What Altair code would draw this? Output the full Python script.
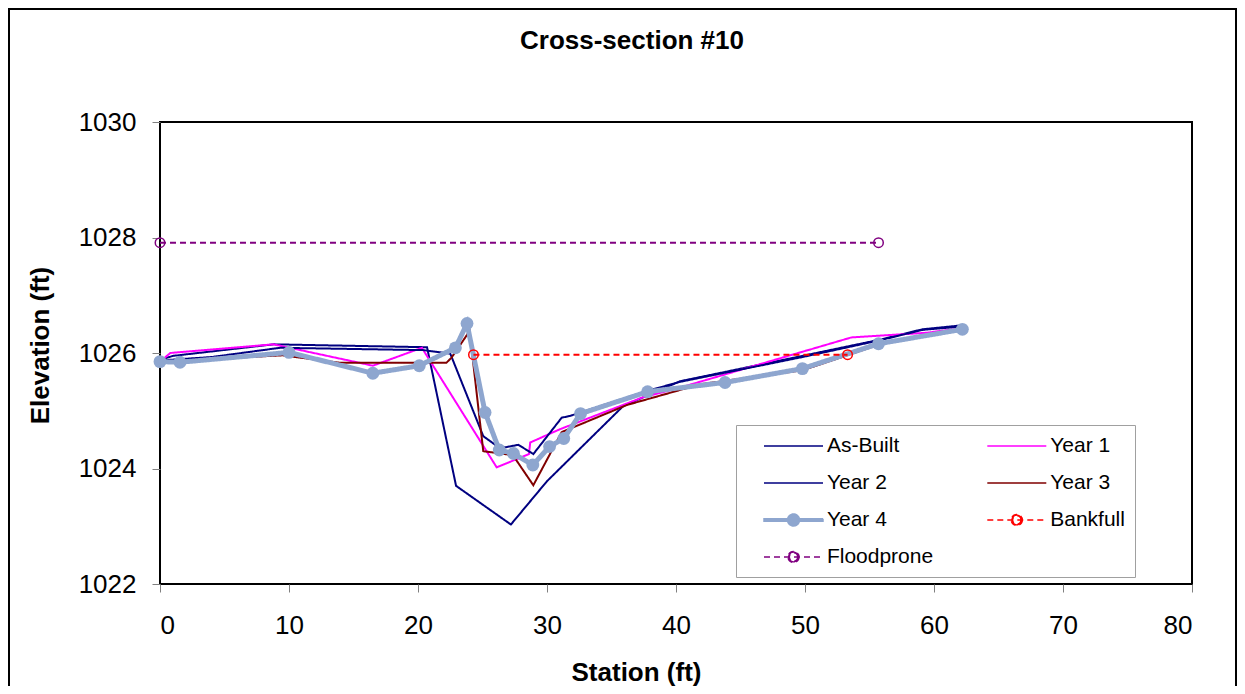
import altair as alt
import pandas as pd

FONT = "Liberation Sans"

chart_title = "Cross-section #10"
x_title = "Station (ft)"
y_title = "Elevation (ft)"
x_ticks = [0, 10, 20, 30, 40, 50, 60, 70, 80]
y_ticks = [1022, 1024, 1026, 1028, 1030]

series_names = ["As-Built", "Year 1", "Year 2", "Year 3", "Year 4", "Bankfull", "Floodprone"]
series_colors = ["#000080", "#FF00FF", "#000080", "#800000", "#8EA6CF", "#FF0000", "#800080"]
series_dashes = [[1, 0], [1, 0], [1, 0], [1, 0], [1, 0], [6, 4], [6, 4]]

asbuilt_x = [0, 1.0, 8.8, 20.7, 22.95, 27.2, 30.0, 35.9, 40.3, 49.8, 55.8, 59.1, 62.2]
asbuilt_y = [1025.88, 1025.95, 1026.15, 1026.1, 1023.7, 1023.03, 1023.78, 1025.08, 1025.51, 1025.95, 1026.23, 1026.41, 1026.48]

year1_x = [0, 0.8, 8.8, 16.5, 20.3, 26.1, 28.6, 28.7, 31.0, 37.4, 40.3, 53.6, 59.4, 62.2]
year1_y = [1025.85, 1026.0, 1026.15, 1025.78, 1026.09, 1024.02, 1024.25, 1024.45, 1024.68, 1025.23, 1025.40, 1026.27, 1026.35, 1026.43]

year2_x = [0, 4.0, 9.3, 20.4, 22.5, 25.06, 26.36, 27.78, 28.94, 31.14, 31.78, 37.73, 40.3, 49.8, 55.8, 59.1, 62.2]
year2_y = [1025.87, 1025.93, 1026.09, 1026.05, 1025.99, 1024.56, 1024.35, 1024.41, 1024.25, 1024.88, 1024.91, 1025.34, 1025.5, 1025.93, 1026.22, 1026.4, 1026.46]

year3_x = [0, 9.5, 14.0, 22.2, 22.6, 24.0, 25.06, 27.36, 28.94, 31.14, 36.2, 41.9, 49.8, 55.8, 62.2]
year3_y = [1025.85, 1025.96, 1025.83, 1025.83, 1025.92, 1026.38, 1024.30, 1024.23, 1023.71, 1024.63, 1025.1, 1025.46, 1025.70, 1026.15, 1026.42]

year4_x = [0, 1.55, 10.0, 16.5, 20.1, 22.9, 23.8, 25.2, 26.3, 27.4, 28.9, 30.2, 31.3, 32.6, 37.8, 43.8, 49.8, 55.7, 62.2]
year4_y = [1025.85, 1025.84, 1026.01, 1025.65, 1025.78, 1026.09, 1026.51, 1024.97, 1024.32, 1024.26, 1024.06, 1024.38, 1024.52, 1024.95, 1025.33, 1025.49, 1025.73, 1026.16, 1026.41]

bankfull_x = [24.3, 53.3]
bankfull_y = [1025.97, 1025.97]

floodprone_x = [0, 55.7]
floodprone_y = [1027.91, 1027.91]

all_series = {
    "As-Built": (asbuilt_x, asbuilt_y),
    "Year 1": (year1_x, year1_y),
    "Year 2": (year2_x, year2_y),
    "Year 3": (year3_x, year3_y),
    "Year 4": (year4_x, year4_y),
    "Bankfull": (bankfull_x, bankfull_y),
    "Floodprone": (floodprone_x, floodprone_y),
}

rows = []
for name, (xs, ys) in all_series.items():
    for i, (xv, yv) in enumerate(zip(xs, ys)):
        rows.append({"series": name, "station": xv, "elev": yv, "i": i})
df = pd.DataFrame(rows)

# legend symbol shapes (unit = 10 px): a 59 px line, optionally with a marker
line_path = "M-2.95,0L2.95,0"
disk_path = ("M-2.95,-0.125L2.95,-0.125L2.95,0.125L-2.95,0.125Z"
             "M0.6,0A0.6,0.6,0,1,1,-0.6,0A0.6,0.6,0,1,1,0.6,0Z")
ring_path = (line_path +
             "M0.55,0A0.55,0.55,0,1,1,-0.55,0A0.55,0.55,0,1,1,0.55,0Z"
             "M0.42,0A0.42,0.42,0,1,0,-0.42,0A0.42,0.42,0,1,0,0.42,0Z")
series_shapes = [line_path, line_path, line_path, line_path, disk_path, ring_path, ring_path]
series_fills = ["transparent", "transparent", "transparent", "transparent", "#8EA6CF", "#FF0000", "#800080"]

legend = alt.Legend(
    orient="none", legendX=576, legendY=303, columns=2, direction="horizontal", title=None,
    labelFont=FONT, labelFontSize=21, labelColor="black", labelOffset=22.4, labelLimit=0,
    symbolSize=400, symbolType="stroke", symbolOffset=36.5, symbolOpacity=1,
    fillColor="white", strokeColor="#A0A0A0", padding=10, gridAlign="all",
    columnPadding=35.3, rowPadding=16,
)

color_scale = alt.Scale(domain=series_names, range=series_colors)
dash_scale = alt.Scale(domain=series_names, range=series_dashes)
shape_scale = alt.Scale(domain=series_names, range=series_shapes)
fill_scale = alt.Scale(domain=series_names, range=series_fills)

x_enc = alt.X("station:Q", scale=alt.Scale(domain=[0, 80], nice=False, zero=False),
              axis=alt.Axis(values=x_ticks, title=x_title, format="d",
                            labelPadding=20, titleX=476, titleY=96,
                            titleBaseline="alphabetic", titleAlign="center"))
y_enc = alt.Y("elev:Q", scale=alt.Scale(domain=[1022, 1030], nice=False, zero=False),
              axis=alt.Axis(values=y_ticks, title=y_title, format="d",
                            labelPadding=16, titleX=-112, titleY=223, titleAngle=270,
                            titleBaseline="alphabetic", titleAlign="center"))

base = alt.Chart(df)

def line_layer(names, width):
    return base.transform_filter(
        alt.FieldOneOfPredicate(field="series", oneOf=names)
    ).mark_line(clip=False, strokeWidth=width).encode(
        x=x_enc, y=y_enc,
        color=alt.Color("series:N", scale=color_scale, legend=legend),
        strokeDash=alt.StrokeDash("series:N", scale=dash_scale, legend=legend),
        order=alt.Order("i:Q"),
    )

# legend-only layer (no rows drawn) that supplies the symbol shapes and fills
legend_layer = base.transform_filter("false").mark_point(opacity=1).encode(
    x=x_enc, y=y_enc,
    color=alt.Color("series:N", scale=color_scale, legend=legend),
    fill=alt.Fill("series:N", scale=fill_scale, legend=legend),
    strokeDash=alt.StrokeDash("series:N", scale=dash_scale, legend=legend),
    shape=alt.Shape("series:N", scale=shape_scale, legend=legend),
)

thin = line_layer(["As-Built", "Year 1", "Year 2", "Year 3"], 2)
y4line = line_layer(["Year 4"], 5)
y4pts = base.transform_filter(alt.datum.series == "Year 4").mark_circle(size=165, opacity=1).encode(
    x=x_enc, y=y_enc,
    color=alt.Color("series:N", scale=color_scale, legend=None),
)
dashed = line_layer(["Bankfull", "Floodprone"], 2)
openpts = base.transform_filter(
    alt.FieldOneOfPredicate(field="series", oneOf=["Bankfull", "Floodprone"])
).mark_point(filled=False, size=90, strokeWidth=1.5, opacity=1).encode(
    x=x_enc, y=y_enc,
    color=alt.Color("series:N", scale=color_scale, legend=None),
)

frame = alt.Chart(pd.DataFrame({"k": [0]})).mark_rect(
    fill="transparent", stroke="black", strokeWidth=2, clip=False
).encode(x=alt.value(-151), x2=alt.value(1076), y=alt.value(-113), y2=alt.value(600))

chart = alt.layer(frame, legend_layer, thin, y4line, y4pts, dashed, openpts).properties(
    width=1032, height=462,
    autosize=alt.AutoSizeParams(type="none"),
    padding={"left": 152, "top": 114, "right": 45, "bottom": 102},
    title=alt.Title(chart_title, font=FONT, fontSize=26, fontWeight="bold", color="black",
                    anchor="middle", frame="group", dx=-44, offset=-67, baseline="alphabetic"),
    background="white",
).configure_view(
    stroke="black", strokeWidth=2
).configure_axis(
    labelFont=FONT, labelFontSize=26, labelColor="black",
    titleFont=FONT, titleFontSize=26, titleFontWeight="bold", titleColor="black",
    grid=False, domain=False, ticks=True, tickColor="#808080", tickSize=8, tickWidth=1,
).configure_legend(
    gridAlign="all"
)

chart.save("out.html", embed_options={"renderer": "svg", "actions": False})
